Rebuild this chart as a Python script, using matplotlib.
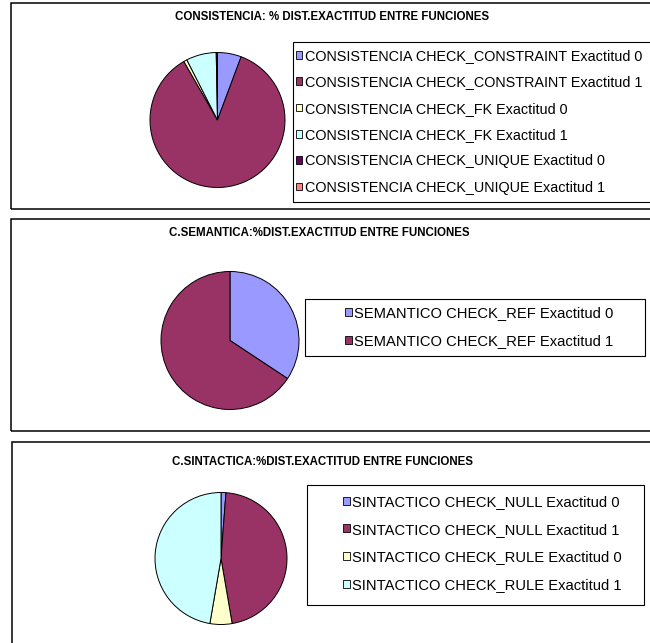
import matplotlib
matplotlib.use("Agg")
import matplotlib.pyplot as plt
from matplotlib.patches import Patch, Rectangle

plt.rcParams['font.family'] = ['Liberation Sans', 'DejaVu Sans']

W, H = 650, 643

# colores de la paleta de Excel
colores = ['#9999FF', '#993366', '#FFFFCC', '#CCFFFF', '#660066', '#FF8080']

titulo_cons = 'CONSISTENCIA: % DIST.EXACTITUD ENTRE FUNCIONES'
etiquetas_cons = ['CONSISTENCIA CHECK_CONSTRAINT Exactitud 0',
                  'CONSISTENCIA CHECK_CONSTRAINT Exactitud 1',
                  'CONSISTENCIA CHECK_FK Exactitud 0',
                  'CONSISTENCIA CHECK_FK Exactitud 1',
                  'CONSISTENCIA CHECK_UNIQUE Exactitud 0',
                  'CONSISTENCIA CHECK_UNIQUE Exactitud 1']
valores_cons = [5.7, 86.0, 0.8, 7.2, 0.3, 0.0]

titulo_sem = 'C.SEMANTICA:%DIST.EXACTITUD ENTRE FUNCIONES'
etiquetas_sem = ['SEMANTICO CHECK_REF Exactitud 0',
                 'SEMANTICO CHECK_REF Exactitud 1']
valores_sem = [34.3, 65.7]

titulo_sin = 'C.SINTACTICA:%DIST.EXACTITUD ENTRE FUNCIONES'
etiquetas_sin = ['SINTACTICO CHECK_NULL Exactitud 0',
                 'SINTACTICO CHECK_NULL Exactitud 1',
                 'SINTACTICO CHECK_RULE Exactitud 0',
                 'SINTACTICO CHECK_RULE Exactitud 1']
valores_sin = [1.2, 46.1, 5.4, 47.3]

fig = plt.figure(figsize=(W / 100, H / 100), dpi=100)
fig.patch.set_facecolor('white')


def caja(x0, y0, x1, y1, lw):
    fig.add_artist(Rectangle((x0 / W, 1 - y1 / H), (x1 - x0) / W, (y1 - y0) / H,
                             transform=fig.transFigure, fill=False,
                             edgecolor='black', linewidth=lw))


def torta(valores, cx, cy, r):
    ax = fig.add_axes([(cx - r) / W, 1 - (cy + r) / H, 2 * r / W, 2 * r / H])
    ax.pie(valores, colors=colores[:len(valores)], startangle=90, counterclock=False,
           wedgeprops=dict(edgecolor='black', linewidth=0.7, clip_on=False))
    ax.set_xlim(-1, 1)
    ax.set_ylim(-1, 1)
    ax.axis('off')


def leyenda(etiquetas, x, ymid, espacio, tam=10.6):
    manijas = [Patch(facecolor=c, edgecolor='black', linewidth=0.6)
               for c in colores[:len(etiquetas)]]
    fig.legend(manijas, etiquetas, loc='center left',
               bbox_to_anchor=(x / W, 1 - ymid / H), frameon=False,
               fontsize=tam, handlelength=0.45, handleheight=0.45,
               handletextpad=0.18, labelspacing=espacio,
               borderpad=0, borderaxespad=0)


# panel 1
caja(10.5, 2.7, 670, 209, 1.1)
fig.text(332 / W, 1 - 17.5 / H, titulo_cons, ha='center', va='center',
         fontsize=8.3, fontweight='bold')
torta(valores_cons, 217.5, 120, 67.5)
caja(293, 41.7, 670, 201.7, 0.8)
leyenda(etiquetas_cons, 296, 121.7, 0.86, tam=10.35)

# panel 2
caja(10.5, 219, 670, 430.7, 1.1)
fig.text(319 / W, 1 - 232.7 / H, titulo_sem, ha='center', va='center',
         fontsize=8.3, fontweight='bold')
torta(valores_sem, 230, 340.5, 69)
caja(305, 299, 645, 356, 0.8)
leyenda(etiquetas_sem, 345, 327, 0.93)

# panel 3
caja(11.5, 441.7, 670, 680, 1.1)
fig.text(323 / W, 1 - 461.7 / H, titulo_sin, ha='center', va='center',
         fontsize=8.3, fontweight='bold')
torta(valores_sin, 221, 558.5, 66)
caja(307, 485, 644, 604.5, 0.8)
leyenda(etiquetas_sin, 343, 543.5, 0.93)

fig.savefig('out.png', dpi=100, facecolor='white')
